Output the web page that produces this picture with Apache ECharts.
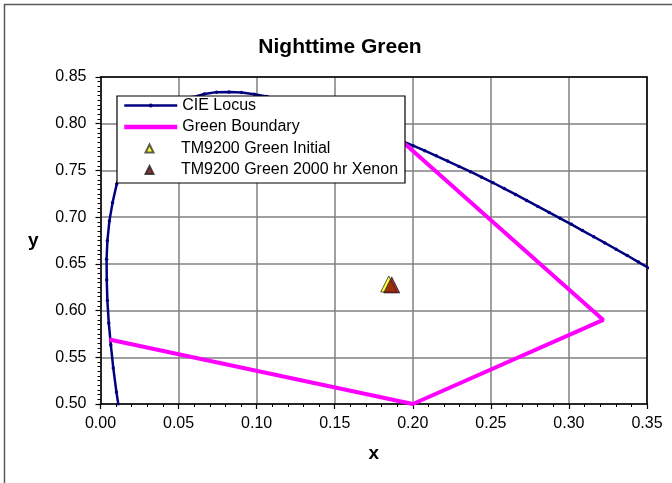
<!DOCTYPE html>
<html>
<head>
<meta charset="utf-8">
<script src="https://cdn.jsdelivr.net/npm/echarts@6/dist/echarts.min.js"></script>
<style>
  html, body { margin: 0; padding: 0; background: #fff; }
  #chart { width: 672px; height: 483px; }
</style>
</head>
<body>
<div id="chart"></div>
<script>
// CIE 1931 spectral locus, 1 nm steps (498–557 nm)
const locusX = [
  0.0126, 0.0102, 0.0082, 0.0066, 0.0053, 0.0044, 0.0040, 0.0039, 0.0044, 0.0057,
  0.0077, 0.0104, 0.0139, 0.0179, 0.0226, 0.0279, 0.0333, 0.0389, 0.0453, 0.0519,
  0.0588, 0.0665, 0.0743, 0.0823, 0.0903, 0.0985, 0.1064, 0.1142, 0.1222, 0.1303,
  0.1384, 0.1465, 0.1547, 0.1626, 0.1704, 0.1781, 0.1856, 0.1929, 0.2002, 0.2076,
  0.2150, 0.2223, 0.2296, 0.2369, 0.2441, 0.2514, 0.2586, 0.2658, 0.2729, 0.2801,
  0.2873, 0.2944, 0.3016, 0.3087, 0.3159, 0.3230, 0.3302, 0.3374, 0.3445, 0.3517
];
const locusY = [
  0.4866, 0.5128, 0.5384, 0.5632, 0.5868, 0.6107, 0.6328, 0.6548, 0.6746, 0.6960,
  0.7153, 0.7355, 0.7502, 0.7666, 0.7817, 0.7953, 0.8043, 0.8120, 0.8183, 0.8237,
  0.8282, 0.8318, 0.8338, 0.8340, 0.8333, 0.8316, 0.8292, 0.8262, 0.8225, 0.8185,
  0.8144, 0.8102, 0.8059, 0.8012, 0.7965, 0.7916, 0.7866, 0.7816, 0.7765, 0.7711,
  0.7656, 0.7600, 0.7543, 0.7486, 0.7428, 0.7368, 0.7306, 0.7243, 0.7179, 0.7115,
  0.7051, 0.6987, 0.6923, 0.6856, 0.6790, 0.6724, 0.6656, 0.6589, 0.6519, 0.6450
];

// Green chromaticity boundary vertices
const boundaryX = [0.0056, 0.200, 0.322, 0.1929];
const boundaryY = [0.569, 0.500, 0.590, 0.7816];

// Measured TM9200 green chromaticity
const initialX = [0.1846];
const initialY = [0.6285];
const xenonX = [0.1865];
const xenonY = [0.6275];

const xTicks = ['0.00', '0.05', '0.10', '0.15', '0.20', '0.25', '0.30', '0.35'];
const yTicks = ['0.50', '0.55', '0.60', '0.65', '0.70', '0.75', '0.80', '0.85'];

const zip = (xs, ys) => xs.map((x, i) => [x, ys[i]]);

const FONT = "'Liberation Sans', Arial, sans-serif";
const chart = echarts.init(document.getElementById('chart'), null, { renderer: 'canvas' });

const baseAxis = {
  type: 'value',
  interval: 0.05,
  axisLine: { show: true, onZero: false, lineStyle: { color: '#000', width: 1.5 } },
  axisTick: { show: true, inside: false, length: 5, lineStyle: { color: '#000', width: 1.2 } },
  minorTick: { show: true, length: 3, lineStyle: { color: '#000', width: 1 } },
  splitLine: { show: true, lineStyle: { color: '#808080', width: 1.5 } },
  axisLabel: { color: '#000', fontSize: 16, fontFamily: FONT },
  nameTextStyle: { color: '#000', fontSize: 19, fontWeight: 'bold', fontFamily: FONT }
};

const frameAxis = {
  type: 'value',
  axisLine: { show: true, onZero: false, lineStyle: { color: '#000', width: 1.5 } },
  axisTick: { show: false },
  axisLabel: { show: false },
  splitLine: { show: false }
};

const legendText = { color: '#000', fontSize: 16, fontFamily: FONT };

chart.setOption({
  animation: false,
  backgroundColor: '#fff',
  title: {
    text: 'Nighttime Green',
    left: 335,
    textAlign: 'center',
    top: 32,
    textStyle: { color: '#000', fontSize: 21, fontWeight: 'bold', fontFamily: FONT }
  },
  grid: { left: 100.5, top: 77, width: 546.5, height: 327, containLabel: false },
  xAxis: [
    Object.assign({}, baseAxis, {
      min: 0, max: 0.35,
      minorTick: Object.assign({}, baseAxis.minorTick, { splitNumber: 5 }),
      axisLabel: Object.assign({}, baseAxis.axisLabel, {
        margin: 12,
        formatter: (v) => xTicks[Math.round(v / 0.05)]
      }),
      name: 'x', nameLocation: 'middle', nameGap: 40
    }),
    Object.assign({}, frameAxis, { position: 'top', min: 0, max: 0.35 })
  ],
  yAxis: [
    Object.assign({}, baseAxis, {
      min: 0.5, max: 0.85,
      minorTick: Object.assign({}, baseAxis.minorTick, { splitNumber: 10 }),
      axisLabel: Object.assign({}, baseAxis.axisLabel, {
        margin: 14,
        formatter: (v) => yTicks[Math.round((v - 0.5) / 0.05)]
      }),
      name: 'y', nameLocation: 'middle', nameGap: 62, nameRotate: 0
    }),
    Object.assign({}, frameAxis, { position: 'right', min: 0.5, max: 0.85 })
  ],
  legend: [
    {
      left: 122, top: 97.5, orient: 'vertical', padding: 0,
      itemWidth: 53, itemHeight: 5, itemGap: 5.5,
      textStyle: legendText,
      data: [
        { name: 'CIE Locus', lineStyle: { width: 2.5 } },
        { name: 'Green Boundary', lineStyle: { width: 4.5 }, itemStyle: { opacity: 0 } }
      ]
    },
    {
      // narrow icon box keeps the triangles square; text padding restores the column
      left: 144.5, top: 140.5, orient: 'vertical', padding: 0,
      itemWidth: 8, itemHeight: 8, itemGap: 5.5,
      textStyle: Object.assign({}, legendText, { padding: [0, 0, 0, 22.5] }),
      data: ['TM9200 Green Initial', 'TM9200 Green 2000 hr Xenon']
    }
  ],
  graphic: [
    {
      type: 'rect', z: 0, silent: true,
      shape: { x: 4.5, y: 4.5, width: 720, height: 520 },
      style: { fill: 'none', stroke: '#5a5a5a', lineWidth: 1.5 }
    },
    {
      type: 'rect', z: 3, silent: true,
      shape: { x: 117, y: 96, width: 288, height: 87 },
      style: { fill: '#fff', stroke: '#000', lineWidth: 1.2 }
    }
  ],
  series: [
    {
      name: 'CIE Locus', type: 'line',
      data: zip(locusX, locusY),
      symbol: 'circle', symbolSize: 3.5, showSymbol: true, showAllSymbol: true,
      lineStyle: { color: '#000080', width: 2.5 },
      itemStyle: { color: '#000080' },
      clip: true, z: 2
    },
    {
      name: 'Green Boundary', type: 'line',
      data: zip(boundaryX, boundaryY),
      symbol: 'none',
      lineStyle: { color: '#ff00ff', width: 4 },
      itemStyle: { color: '#ff00ff' },
      clip: false, z: 2
    },
    {
      name: 'TM9200 Green Initial', type: 'scatter',
      data: zip(initialX, initialY),
      symbol: 'triangle', symbolSize: 16,
      itemStyle: { color: '#ffff00', borderColor: '#333', borderWidth: 1 },
      z: 2
    },
    {
      name: 'TM9200 Green 2000 hr Xenon', type: 'scatter',
      data: zip(xenonX, xenonY),
      symbol: 'triangle', symbolSize: 16,
      itemStyle: { color: '#800000', borderColor: '#222', borderWidth: 1 },
      z: 2
    }
  ]
});
</script>
</body>
</html>
